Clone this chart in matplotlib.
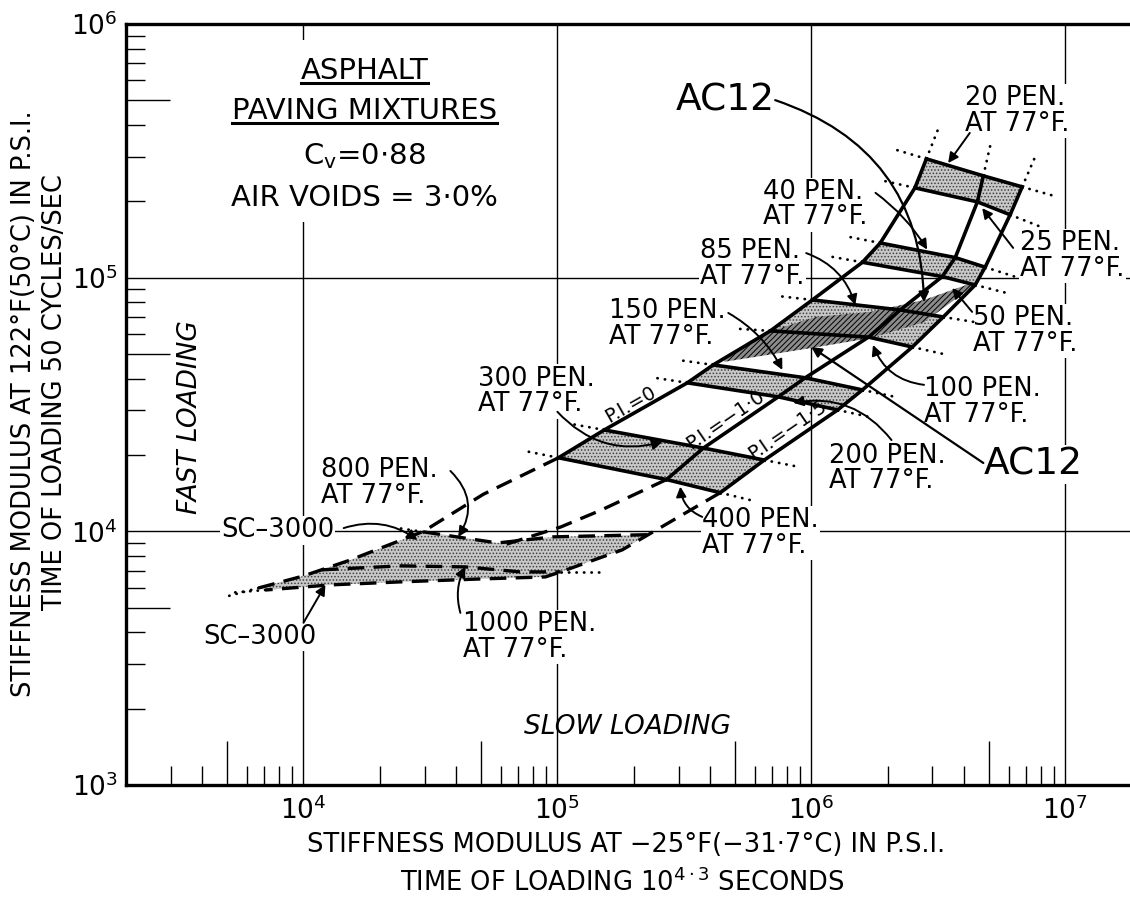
import numpy as np
import matplotlib
matplotlib.use("Agg")
import matplotlib.pyplot as plt
from matplotlib.patches import Polygon, Rectangle
from matplotlib.ticker import FixedLocator, FuncFormatter
from matplotlib.lines import Line2D

plt.rcParams['font.family'] = ['DejaVu Sans']
plt.rcParams['mathtext.fontset'] = 'dejavusans'
plt.rcParams['hatch.linewidth'] = 0.7

# ---------------- data (stiffness in psi) ----------------
# Penetration grades at 77°F, from hardest to softest
PEN_GRADES = [20, 25, 40, 50, 85, 100, 150, 200, 300, 400]
SHADED_PAIRS = [(20, 25), (40, 50), (85, 100), (150, 200), (300, 400)]

# Points of each grade on the three penetration-index lines
# x: stiffness at -25°F, y: stiffness at 122°F
PI0_X = [2.84e6, 2.56e6, 1.87e6, 1.59e6, 1.01e6, 6.90e5, 4.11e5, 3.25e5, 1.53e5, 1.01e5]
PI0_Y = [2.94e5, 2.26e5, 1.37e5, 1.15e5, 8.17e4, 6.17e4, 4.53e4, 3.85e4, 2.51e4, 1.95e4]
PI10_X = [4.76e6, 4.51e6, 3.69e6, 3.28e6, 2.24e6, 1.68e6, 9.47e5, 7.41e5, 3.76e5, 2.69e5]
PI10_Y = [2.52e5, 1.99e5, 1.20e5, 1.01e5, 7.46e4, 5.83e4, 4.03e4, 3.39e4, 2.13e4, 1.60e4]
PI15_X = [6.77e6, 6.07e6, 4.84e6, 4.42e6, 3.31e6, 2.50e6, 1.59e6, 1.27e6, 6.53e5, 4.38e5]
PI15_Y = [2.28e5, 1.77e5, 1.10e5, 9.36e4, 7.00e4, 5.33e4, 3.61e4, 3.01e4, 1.91e4, 1.42e4]

# Extensions of the P.I. lines into the soft-binder region (dashed)
PI0_EXT_X = [1.01e5, 5.11e4, 2.97e4, 1.53e4, 1.00e4, 6.65e3]
PI0_EXT_Y = [1.95e4, 1.40e4, 1.00e4, 7.71e3, 6.67e3, 5.98e3]
PI10_EXT_X = [2.69e5, 1.48e5, 1.03e5, 5.97e4]
PI10_EXT_Y = [1.60e4, 1.21e4, 1.04e4, 8.75e3]
PI15_EXT_X = [4.38e5, 1.80e5, 1.03e5, 8.97e4, 4.98e4, 2.41e4, 1.28e4, 7.08e3]
PI15_EXT_Y = [1.42e4, 8.45e3, 6.92e3, 6.61e3, 6.49e3, 6.32e3, 6.15e3, 5.87e3]
PEN800_X = [2.97e4, 5.81e4, 9.64e4, 2.26e5]
PEN800_Y = [9.95e3, 9.00e3, 9.51e3, 9.70e3]
PEN1000_X = [1.18e4, 2.41e4, 4.34e4, 7.15e4, 1.03e5]
PEN1000_Y = [7.05e3, 7.31e3, 7.24e3, 6.92e3, 6.92e3]

# AC12 mixture zone
AC12_UPPER_X = [4.54e5, 6.53e5, 1.04e6, 1.71e6, 2.78e6, 4.30e6]
AC12_UPPER_Y = [4.74e4, 6.05e4, 7.00e4, 7.33e4, 8.17e4, 9.53e4]
AC12_LOWER_X = [4.54e5, 1.00e6, 1.71e6, 2.78e6, 4.30e6]
AC12_LOWER_Y = [4.66e4, 5.28e4, 5.78e4, 6.68e4, 9.19e4]

# ---------------- figure ----------------
fig = plt.figure(figsize=(11.3, 9.01), dpi=100)
ax = fig.add_axes([126 / 1130, 116 / 901, 1004 / 1130, 761 / 901])
ax.set_xscale('log')
ax.set_yscale('log')
ax.set_xlim(2.0e3, 1.8e7)
ax.set_ylim(1e3, 1e6)

for s in ('top', 'left', 'bottom'):
    ax.spines[s].set_linewidth(2.4)
ax.spines['right'].set_visible(False)

fmt = FuncFormatter(lambda v, p: r'$10^{%d}$' % int(round(np.log10(v))))
ax.xaxis.set_major_locator(FixedLocator([1e3, 1e4, 1e5, 1e6, 1e7]))
ax.yaxis.set_major_locator(FixedLocator([1e3, 1e4, 1e5, 1e6]))
ax.xaxis.set_major_formatter(fmt)
ax.yaxis.set_major_formatter(fmt)
ax.xaxis.set_minor_locator(FixedLocator([m * 10.0 ** e for e in range(3, 8) for m in (2, 3, 4, 6, 7, 8, 9)]))
ax.yaxis.set_minor_locator(FixedLocator([m * 10.0 ** e for e in range(3, 6) for m in (2, 3, 4, 6, 7, 8, 9)]))
ax.tick_params(which='major', length=0, labelsize=19)
ax.tick_params(axis='x', which='major', pad=8)
ax.tick_params(axis='y', which='major', pad=6)
ax.tick_params(which='minor', direction='in', length=14, width=1.0,
               top=False, right=False)
# longer ticks at the half-decade (5 x 10^n)
ax.vlines([5 * 10.0 ** e for e in range(3, 8)], 0, 0.058, transform=ax.get_xaxis_transform(),
          color='black', lw=1.0)
ax.hlines([5 * 10.0 ** e for e in range(3, 6)], 0, 0.044, transform=ax.get_yaxis_transform(),
          color='black', lw=1.0)

for v in (1e4, 1e5, 1e6, 1e7):
    ax.axvline(v, color='black', lw=1.0, zorder=0.5)
for v in (1e4, 1e5):
    ax.axhline(v, color='black', lw=1.0, zorder=0.5)

LW = 2.6
DOT = dict(color='black', lw=2.0, linestyle=(0, (0.1, 2.6)), dash_capstyle='round',
           solid_capstyle='round', zorder=4)
DASH = dict(color='black', lw=2.4, linestyle=(0, (5, 2.8)), zorder=4)
STIPPLE = dict(closed=True, facecolor='#c8c8c8', edgecolor='#404040', hatch='.....', lw=0, zorder=3)


def extend(xa, ya, xb, yb, dec=0.13):
    la = np.log10([xa, ya])
    lb = np.log10([xb, yb])
    d = lb - la
    d = d / np.hypot(*d)
    e = 10 ** (lb + d * dec)
    return e[0], e[1]


pts = [list(zip(PI0_X, PI0_Y)), list(zip(PI10_X, PI10_Y)), list(zip(PI15_X, PI15_Y))]
idx = {g: i for i, g in enumerate(PEN_GRADES)}

# shaded grade cells
for a, b in SHADED_PAIRS:
    i, j = idx[a], idx[b]
    poly = [pts[0][i], pts[1][i], pts[2][i], pts[2][j], pts[1][j], pts[0][j]]
    ax.add_patch(Polygon(poly, **STIPPLE))

# AC12 zone
ac12 = list(zip(AC12_UPPER_X, AC12_UPPER_Y)) + list(zip(AC12_LOWER_X, AC12_LOWER_Y))[::-1]
ax.add_patch(Polygon(ac12, closed=True, facecolor='#8c8c8c', edgecolor='black',
                     hatch='//////', lw=0, zorder=3.5))

# P.I. lines
for line in pts:
    xs, ys = zip(*line)
    ax.plot(xs, ys, color='black', lw=LW, solid_joinstyle='round', zorder=5)
    ex, ey = extend(line[1][0], line[1][1], line[0][0], line[0][1], 0.13)
    ax.plot([line[0][0], ex], [line[0][1], ey], **DOT)

# grade cross lines with dotted continuations
for i in range(len(PEN_GRADES)):
    xs = [pts[k][i][0] for k in range(3)]
    ys = [pts[k][i][1] for k in range(3)]
    ax.plot(xs, ys, color='black', lw=LW, solid_capstyle='projecting', zorder=5)
    lx, ly = extend(xs[1], ys[1], xs[0], ys[0], 0.13)
    rx, ry = extend(xs[1], ys[1], xs[2], ys[2], 0.13)
    ax.plot([xs[0], lx], [ys[0], ly], **DOT)
    ax.plot([xs[2], rx], [ys[2], ry], **DOT)

# soft-binder region
soft = (list(zip(PI0_EXT_X, PI0_EXT_Y))[2:][::-1] + list(zip(PEN800_X, PEN800_Y))[1:]
        + list(zip(PI15_EXT_X, PI15_EXT_Y))[1:])
ax.add_patch(Polygon(soft, **STIPPLE))
for xs, ys in ((PI0_EXT_X, PI0_EXT_Y), (PI10_EXT_X, PI10_EXT_Y), (PI15_EXT_X, PI15_EXT_Y),
               (PEN800_X, PEN800_Y), (PEN1000_X, PEN1000_Y)):
    ax.plot(xs, ys, **DASH)
for xs, ys in ((PI0_EXT_X, PI0_EXT_Y), (PI15_EXT_X, PI15_EXT_Y)):
    ex, ey = extend(xs[-2], ys[-2], xs[-1], ys[-1], 0.14)
    ax.plot([xs[-1], ex], [ys[-1], ey], **DOT)
ex, ey = extend(PEN800_X[1], PEN800_Y[1], PEN800_X[0], PEN800_Y[0], 0.1)
ax.plot([PEN800_X[0], ex], [PEN800_Y[0], ey], **DOT)
ex, ey = extend(PEN1000_X[-2], PEN1000_Y[-2], PEN1000_X[-1], PEN1000_Y[-1], 0.17)
ax.plot([PEN1000_X[-1], ex], [PEN1000_Y[-1], ey], **DOT)

# ---------------- text ----------------
WHITE = dict(facecolor='white', edgecolor='none', pad=1.0)
FS = 18.5


def label(x, y, s, fs=FS, ha='left', **kw):
    return ax.text(x, y, s, fontsize=fs, ha=ha, va='center', linespacing=0.98,
                   bbox=WHITE, zorder=2, **kw)


def arrow(tail, head, rad=0.0, lw=1.4):
    ax.annotate('', xy=head, xytext=tail,
                arrowprops=dict(arrowstyle='-|>', color='black', lw=lw, mutation_scale=15,
                                shrinkA=0, shrinkB=0, connectionstyle='arc3,rad=%g' % rad),
                zorder=6)


AT = 'AT 77°F.'
label(4.04e6, 4.54e5, '20 PEN.\n' + AT)
label(6.65e6, 1.22e5, '25 PEN.\n' + AT)
label(6.47e5, 1.94e5, '40 PEN.\n' + AT)
label(4.34e6, 6.17e4, '50 PEN.\n' + AT)
label(3.66e5, 1.13e5, '85 PEN.\n' + AT)
label(2.78e6, 3.24e4, '100 PEN.\n' + AT)
label(1.59e5, 6.57e4, '150 PEN.\n' + AT)
label(1.17e6, 1.77e4, '200 PEN.\n' + AT)
label(4.89e4, 3.56e4, '300 PEN.\n' + AT)
label(3.72e5, 9.86e3, '400 PEN.\n' + AT)
label(1.17e4, 1.55e4, '800 PEN.\n' + AT)
label(4.23e4, 3.84e3, '1000 PEN.\n' + AT)
label(7.9e3, 1.01e4, 'SC\u20133000', ha='center')
label(6.71e3, 3.84e3, 'SC\u20133000', ha='center')
label(4.59e5, 5.01e5, 'AC12', fs=27, ha='center')
label(7.48e6, 1.83e4, 'AC12', fs=27, ha='center')

arrow((4.21e6, 3.72e5), (3.46e6, 2.83e5))
arrow((6.24e6, 1.31e5), (4.71e6, 1.88e5))
arrow((1.79e6, 2.16e5), (2.86e6, 1.29e5), -0.1)
arrow((4.30e6, 7.33e4), (3.59e6, 9.10e4))
arrow((9.55e5, 1.25e5), (1.49e6, 7.80e4), -0.25)
arrow((2.78e6, 3.78e4), (1.75e6, 5.43e4), -0.3)
arrow((4.71e5, 7.26e4), (7.69e5, 4.33e4), -0.15)
arrow((2.07e6, 2.29e4), (8.49e5, 3.21e4), 0.3)
arrow((1.0e5, 2.96e4), (2.59e5, 2.25e4), 0.3)
arrow((3.72e5, 1.14e4), (3.05e5, 1.50e4), -0.3)
arrow((3.79e4, 1.73e4), (4.07e4, 9.51e3), -0.4)
arrow((4.15e4, 4.77e3), (4.34e4, 7.24e3), -0.2)
arrow((1.0e4, 4.36e3), (1.22e4, 6.15e3))
arrow((1.44e4, 1.03e4), (2.81e4, 9.25e3), -0.25)
arrow((7.21e5, 5.01e5), (2.78e6, 8.0e4), -0.35, lw=1.6)
arrow((4.76e6, 1.86e4), (1.0e6, 5.33e4), 0.0, lw=1.6)


def seg_angle(xa, ya, xb, yb):
    pa = ax.transData.transform((xa, ya))
    pb = ax.transData.transform((xb, yb))
    return np.degrees(np.arctan2(pb[1] - pa[1], pb[0] - pa[0]))


i3, i2 = idx[300], idx[200]
for (x, y), line, s in (((1.94e5, 3.15e4), pts[0], 'P.I.=0'),
                        ((4.59e5, 2.75e4), pts[1], 'P.I.=\u22121\u00b70'),
                        ((8.05e5, 2.51e4), pts[2], 'P.I.=\u22121\u00b75')):
    ang = seg_angle(line[i3][0], line[i3][1], line[i2][0], line[i2][1])
    ax.text(x, y, s, fontsize=14, rotation=ang, rotation_mode='anchor',
            ha='center', va='center', zorder=6)

# title block
ax.add_patch(Rectangle((0.094, 0.74), 0.29, 0.239, transform=ax.transAxes,
                       facecolor='white', edgecolor='none', zorder=1))
TX = 1.74e4
t1 = ax.text(TX, 6.53e5, 'ASPHALT', fontsize=21, ha='center', va='center', zorder=2)
t2 = ax.text(TX, 4.54e5, 'PAVING MIXTURES', fontsize=21, ha='center', va='center', zorder=2)
ax.text(TX, 3.02e5, r'C$_{\rm v}$=0$\cdot$88', fontsize=21, ha='center', va='center', zorder=2)
ax.text(TX, 2.06e5, 'AIR VOIDS = 3\u00b70%', fontsize=21, ha='center', va='center', zorder=2)

ax.text(3.56e3, 2.82e4, 'FAST LOADING', fontsize=19, style='italic', rotation=90,
        ha='center', va='center', zorder=2)
ax.text(1.89e5, 1.69e3, 'SLOW LOADING', fontsize=19, style='italic',
        ha='center', va='center', zorder=2)

# axis titles
fig.text(626 / 1130, 1 - 845 / 901, 'STIFFNESS MODULUS AT \u221225°F(\u221231\u00b77°C) IN P.S.I.',
         fontsize=18.5, ha='center', va='center')
fig.text(622 / 1130, 1 - 883 / 901, r'TIME OF LOADING 10$^{4\cdot3}$ SECONDS',
         fontsize=18.5, ha='center', va='center')
fig.text(24 / 1130, 1 - 404 / 901, 'STIFFNESS MODULUS AT 122°F(50°C) IN P.S.I.',
         fontsize=18.5, rotation=90, ha='center', va='center')
fig.text(55 / 1130, 1 - 392 / 901, 'TIME OF LOADING 50 CYCLES/SEC',
         fontsize=18.5, rotation=90, ha='center', va='center')

# underline the title words
fig.canvas.draw()
renderer = fig.canvas.get_renderer()
W, H = fig.bbox.width, fig.bbox.height
for t in (t1, t2):
    bb = t.get_window_extent(renderer)
    y = (bb.y0 + 2) / H
    fig.add_artist(Line2D([bb.x0 / W, bb.x1 / W], [y, y], color='black', lw=2.2))

fig.savefig('out.png', dpi=100)
